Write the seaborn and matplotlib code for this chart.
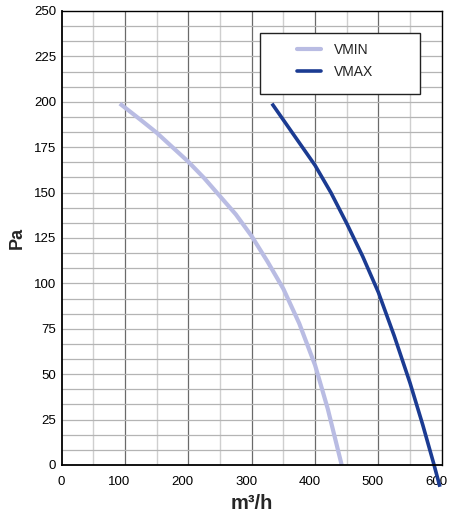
import numpy as np
import matplotlib
matplotlib.use("Agg")
import matplotlib.pyplot as plt
import matplotlib.transforms as mtransforms
import seaborn as sns
import pandas as pd
from matplotlib.patches import Rectangle

# curve points (m3/h, Pa)
vmin_x = [92, 125, 150, 175, 200, 225, 250, 275, 300, 325, 350, 375, 400, 420, 442]
vmin_y = [199, 190, 183, 175, 167, 158, 148, 138, 126, 112, 97, 78, 55, 31, 0]
vmax_x = [332, 366, 400, 425, 450, 475, 500, 525, 550, 570, 587, 597]
vmax_y = [199, 182, 165, 150, 133, 115, 95, 71, 45, 22, 1, -12]

x_ticks = [0, 100, 200, 300, 400, 500, 600]
y_ticks = [0, 25, 50, 75, 100, 125, 150, 175, 200, 225, 250]

sns.set_style("white")
plt.rcParams['font.family'] = ['Liberation Sans', 'DejaVu Sans']

df = pd.concat([
    pd.DataFrame({'q': vmin_x, 'p': vmin_y, 'serie': 'VMIN'}),
    pd.DataFrame({'q': vmax_x, 'p': vmax_y, 'serie': 'VMAX'}),
])

fig = plt.figure(figsize=(4.49, 5.13), dpi=100)
ax = fig.add_axes([0.137, 0.0936, 0.847, 0.885])

# grid
for x in np.arange(50, 600, 100):
    ax.axvline(x, color='#cfcfcf', lw=1.0, zorder=0)
for x in np.arange(100, 600, 100):
    ax.axvline(x, color='#6a6a6a', lw=0.9, zorder=0)
for y in np.arange(25 / 3, 250, 25 / 3):
    ax.axhline(y, color='#b4b4b4', lw=0.9, zorder=0)

palette = {'VMIN': '#b9bce3', 'VMAX': '#1b3b92'}
sns.lineplot(data=df, x='q', y='p', hue='serie', palette=palette, sort=False,
             estimator=None, ax=ax, legend=False)
ax.lines[-2].set_linewidth(3.0)
ax.lines[-1].set_linewidth(2.6)
for ln in ax.lines[-2:]:
    ln.set_clip_on(False)
    ln.set_solid_capstyle('butt')
    ln.set_solid_joinstyle('round')

ax.set_xlim(0, 600)
ax.set_ylim(0, 250)
ax.set_xticks(x_ticks)
ax.set_yticks(y_ticks)
ax.tick_params(axis='both', labelsize=9.5, colors='black', length=3.5, width=0.8,
               direction='out')
ax.tick_params(axis='x', pad=4.5)
ax.tick_params(axis='y', pad=0.5)
# the reference prints the 3-digit labels a little left of their ticks
shift = mtransforms.ScaledTranslation(-5.5 / 100, 0, fig.dpi_scale_trans)
for lab in ax.get_xticklabels()[1:]:
    lab.set_transform(lab.get_transform() + shift)

for s in ax.spines.values():
    s.set_color('black')
    s.set_linewidth(1.0)
ax.spines['left'].set_linewidth(1.3)
ax.spines['bottom'].set_linewidth(1.3)

ax.set_xlabel('m³/h', fontsize=14.5, fontweight='bold', labelpad=4)
ax.set_ylabel('Pa', fontsize=13, fontweight='bold', labelpad=6)

# legend box
ax.add_patch(Rectangle((0.522, 0.817), 0.42, 0.135, transform=ax.transAxes,
                       facecolor='white', edgecolor='#222222', lw=1.0, zorder=5))
handles = [plt.Line2D([], [], color=palette['VMIN'], lw=3.0),
           plt.Line2D([], [], color=palette['VMAX'], lw=2.6)]
leg = ax.legend(handles, ['VMIN', 'VMAX'], loc='upper left',
                bbox_to_anchor=(0.619, 0.929), frameon=False, borderpad=0,
                handlelength=1.75, handletextpad=0.95, labelspacing=0.55,
                fontsize=10, borderaxespad=0, labelcolor='#222222')
leg.set_zorder(6)

fig.savefig('out.png', dpi=100)
